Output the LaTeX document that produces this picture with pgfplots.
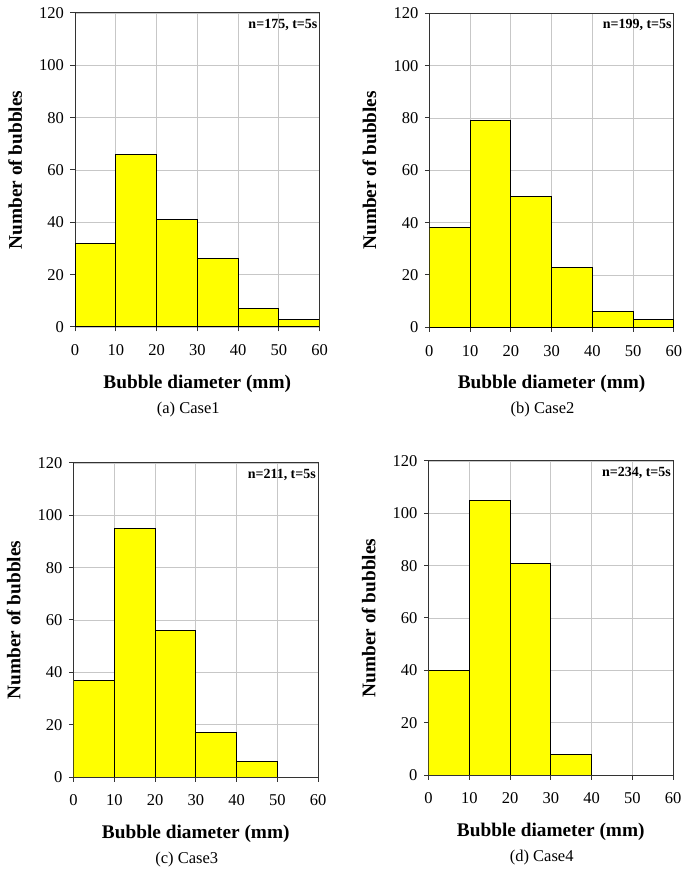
\documentclass[border=0pt]{standalone}
\usepackage{fontspec}
\setmainfont{Liberation Serif}
\usepackage{pgfplots}
\pgfplotsset{compat=1.18}
\definecolor{yel}{RGB}{255,255,0}
\pgfplotsset{
  hist/.style={
    scale only axis,
    width=244.5bp, height=314bp,
    anchor=south west,
    clip mode=individual,
    xmin=0, xmax=60, ymin=0, ymax=120,
    xtick={0,10,...,60}, ytick={0,20,...,120},
    grid=major,
    major grid style={draw=black!22, line width=0.8bp},
    axis line style={draw=black!80, line width=1bp},
    tick style={draw=black!80, line width=1bp},
    tick align=outside,
    xtick pos=bottom, ytick pos=left,
    major tick length=4.5bp,
    /pgf/number format/assume math mode=true,
    tick label style={font=\fontsize{16.5bp}{18bp}\selectfont},
    xticklabel style={yshift=-10bp},
    yticklabel style={xshift=-3bp},
    xlabel={Bubble diameter (mm)},
    ylabel={Number of bubbles},
    label style={font=\fontsize{19.3bp}{21bp}\selectfont\bfseries},
    xlabel style={at={(axis description cs:0.5,-0.18)}, anchor=center},
    ylabel style={at={(axis description cs:-0.245,0.5)}, anchor=center, rotate=0},
  },
  bars/.style={ybar interval, fill=yel, draw=black, line width=1bp},
}
\newcommand{\ann}[1]{\node[anchor=north east, inner sep=0pt, font=\fontsize{14bp}{15bp}\selectfont\bfseries] at (axis description cs:0.992,0.982) {#1};}
\newcommand{\capt}[1]{\node[anchor=center, font=\fontsize{16.5bp}{18bp}\selectfont] at (axis description cs:0.463,-0.262) {#1};}
\begin{document}
\begin{tikzpicture}
\path[use as bounding box] (0,0) rectangle (685bp,870bp);
% (a)
\begin{axis}[hist, at={(75bp,543bp)}]
\addplot[bars] coordinates {(0,32) (10,66) (20,41) (30,26) (40,7) (50,3) (60,3)};
\ann{n=175, t=5s}
\capt{(a) Case1}
\end{axis}
% (b)
\begin{axis}[hist, at={(429.3bp,542.7bp)}]
\addplot[bars] coordinates {(0,38) (10,79) (20,50) (30,23) (40,6) (50,3) (60,3)};
\ann{n=199, t=5s}
\capt{(b) Case2}
\end{axis}
% (c)
\begin{axis}[hist, at={(73.5bp,93bp)}]
\addplot[bars] coordinates {(0,37) (10,95) (20,56) (30,17) (40,6) (50,0) (60,0)};
\ann{n=211, t=5s}
\capt{(c) Case3}
\end{axis}
% (d)
\begin{axis}[hist, at={(428.5bp,95bp)}]
\addplot[bars] coordinates {(0,40) (10,105) (20,81) (30,8) (40,0) (50,0) (60,0)};
\ann{n=234, t=5s}
\capt{(d) Case4}
\end{axis}
\end{tikzpicture}
\end{document}
